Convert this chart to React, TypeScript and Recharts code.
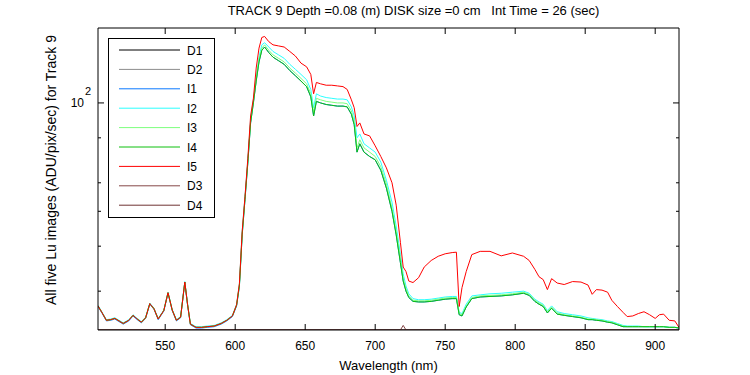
import { LineChart, Line, XAxis, YAxis, Legend } from "recharts";

// wavelength grid (nm) for the five Lu images
const wavelength = [
  502, 505, 508, 511, 514, 517, 520, 524, 527, 530,
  533, 536, 539, 542, 545, 549, 552, 555, 558, 561,
  564, 566, 568, 572, 576, 580, 585, 590, 594, 598,
  601, 603, 605, 607, 609, 611, 613, 615, 617, 619,
  621, 624, 627, 631, 635, 639, 643, 647, 651, 654,
  656, 658, 661, 665, 669, 673, 677, 680, 683, 685,
  687, 689, 692, 696, 700, 704, 708, 712, 715, 718,
  720, 722, 724, 727, 731, 735, 740, 745, 750, 755,
  758, 760, 762, 765, 769, 775, 782, 790, 798, 806,
  810, 814, 817, 820, 823, 826, 830, 835, 841, 847,
  852, 855, 858, 862, 866, 869, 873, 877, 880, 884,
  888, 892, 896, 900, 903, 906, 910, 914, 917,
];

const i1 = [
  27.2, 26.0, 24.8, 24.9, 25.1, 24.7, 24.3, 24.8, 25.6, 25.0,
  24.5, 25.2, 27.6, 26.7, 25.0, 26.4, 29.6, 26.5, 24.8, 25.3,
  31.7, 27.4, 24.2, 23.7, 23.7, 23.8, 23.9, 24.3, 24.8, 25.5,
  27.3, 30.9, 43, 54, 68, 88, 100, 115, 130, 140,
  143, 138, 134, 131, 128, 123, 119, 115, 111, 104,
  92, 101, 100, 99, 98.5, 98, 98, 97.5, 93, 87,
  73, 77, 73, 71, 69.5, 65, 58, 50, 43, 36,
  32, 30, 28.8, 28.1, 28.0, 28.0, 28.1, 28.3, 28.5, 28.6,
  28.6, 25.8, 25.6, 27.1, 28.6, 28.9, 29.0, 29.1, 29.3, 29.6,
  29.2, 28.1, 27.6, 27.2, 26.1, 26.9, 25.9, 25.7, 25.5, 25.3,
  25.0, 25.0, 24.9, 24.8, 24.6, 24.5, 24.2, 23.9, 23.9, 23.9,
  23.9, 23.9, 23.9, 23.9, 23.9, 23.9, 23.8, 23.8, 23.7,
];

const i2 = [
  27.4, 26.2, 25.0, 25.1, 25.3, 24.9, 24.5, 25.0, 25.8, 25.2,
  24.7, 25.4, 27.8, 26.9, 25.2, 26.6, 29.8, 26.7, 25.0, 25.5,
  31.9, 27.6, 24.4, 23.9, 23.9, 24.0, 24.1, 24.5, 25.0, 25.7,
  27.6, 31.3, 44, 55, 69, 90, 102, 118, 134, 145,
  147, 143, 139, 136, 133, 128, 124, 120, 116, 109,
  97, 106, 104.5, 103.5, 103, 102.5, 102.5, 102, 97.5, 92,
  80, 82, 77, 75, 73, 68.5, 61, 53, 45.5, 38,
  33.5, 31, 29.5, 28.6, 28.4, 28.4, 28.5, 28.7, 28.9, 29.0,
  29.0, 26.2, 26.0, 27.6, 29.1, 29.3, 29.5, 29.6, 29.8, 30.0,
  29.6, 28.5, 28.0, 27.6, 26.5, 27.3, 26.3, 26.0, 25.8, 25.6,
  25.3, 25.2, 25.1, 25.0, 24.8, 24.7, 24.4, 24.1, 24.0, 24.0,
  24.0, 23.9, 23.9, 23.9, 23.9, 23.9, 23.8, 23.8, 23.7,
];

const i3 = [
  27.3, 26.1, 24.9, 25.0, 25.2, 24.8, 24.4, 24.9, 25.7, 25.1,
  24.6, 25.3, 27.7, 26.8, 25.1, 26.5, 29.7, 26.6, 24.9, 25.4,
  31.8, 27.5, 24.3, 23.8, 23.8, 23.9, 24.0, 24.4, 24.9, 25.6,
  27.5, 31.2, 43.5, 54.5, 68.5, 89, 101, 116, 132, 142,
  145, 140, 136, 133, 130, 125, 121, 117, 113, 106,
  94, 103, 102, 101, 100.5, 100, 100, 99.5, 95, 89,
  75, 79, 75, 73, 71, 66.5, 59.5, 51, 44, 37,
  32.5, 30.5, 29.1, 28.3, 28.2, 28.2, 28.3, 28.5, 28.7, 28.8,
  28.8, 26.0, 25.8, 27.3, 28.8, 29.1, 29.2, 29.3, 29.5, 29.8,
  29.4, 28.3, 27.8, 27.4, 26.3, 27.1, 26.1, 25.8, 25.6, 25.4,
  25.1, 25.1, 25.0, 24.9, 24.7, 24.6, 24.3, 24.0, 23.9, 23.9,
  23.9, 23.9, 23.9, 23.9, 23.9, 23.9, 23.8, 23.8, 23.7,
];

const i4 = [
  27.3, 26.1, 24.9, 25.0, 25.2, 24.8, 24.4, 24.9, 25.7, 25.1,
  24.6, 25.3, 27.7, 26.8, 25.1, 26.5, 29.7, 26.6, 24.9, 25.4,
  31.8, 27.5, 24.3, 23.8, 23.8, 23.9, 24.0, 24.4, 24.9, 25.6,
  27.4, 31.0, 43, 54, 68, 88, 100, 115, 130, 140,
  143, 138, 134, 131, 128, 123, 119, 115, 111, 104,
  92, 101, 100, 99, 98.5, 98, 98, 97.5, 93, 87,
  73, 77, 73, 71, 69.5, 65, 58, 50, 43, 36,
  32, 30, 28.8, 28.1, 28.0, 28.0, 28.1, 28.3, 28.5, 28.6,
  28.6, 25.8, 25.6, 27.1, 28.6, 28.9, 29.0, 29.1, 29.3, 29.6,
  29.2, 28.1, 27.6, 27.2, 26.1, 26.9, 25.9, 25.7, 25.5, 25.3,
  25.0, 25.0, 24.9, 24.8, 24.6, 24.5, 24.2, 23.9, 23.9, 23.9,
  23.9, 23.9, 23.9, 23.9, 23.9, 23.9, 23.8, 23.8, 23.7,
];

const i5 = [
  27.3, 26.1, 24.9, 25.0, 25.2, 24.8, 24.4, 24.9, 25.7, 25.1,
  24.6, 25.3, 27.7, 26.8, 25.1, 26.5, 29.7, 26.6, 24.9, 25.4,
  31.8, 27.5, 24.3, 23.8, 23.8, 23.9, 24.0, 24.4, 24.9, 25.6,
  27.5, 31.5, 44, 55, 70, 92, 103, 125, 142, 152,
  153, 148, 145, 144, 143, 139, 135, 129, 126, 120,
  106, 114, 113, 112, 112, 111.5, 111, 109, 102, 97,
  86, 88, 82, 81, 76, 71, 66, 60, 52, 41,
  35, 34, 32, 31.7, 32.7, 35, 36.5, 37.5, 38.1, 38.4,
  38.5, 27.2, 30.7, 34.0, 37.9, 38.7, 38.7, 37.6, 38.3, 37.5,
  36.5, 34.5, 32.9, 32.3, 30.3, 32.5, 31.6, 31.3, 31.9, 31.8,
  31.2, 29.4, 30.3, 30.2, 29.8, 28.3, 27.2, 26.2, 25.5, 25.6,
  26.0, 26.3, 25.8, 25.2, 25.8, 25.9, 24.9, 24.8, 23.8,
];

// dark frames sit on the bottom of the axis
const darkWavelength = [502, 718, 720, 722, 917];
const d1 = [23.4, 23.4, 23.4, 23.4, 23.4];
const d2 = [23.4, 23.4, 23.4, 23.4, 23.4];
const d3 = [23.4, 23.4, 24.1, 23.4, 23.4];
const d4 = [23.4, 23.4, 23.4, 23.4, 23.4];

const xTicks = [550, 600, 650, 700, 750, 800, 850, 900];
const yTicks = [30, 40, 50, 60, 70, 80, 90, 100];

const brightData = wavelength.map((wl, i) => ({
  wl,
  I1: i1[i],
  I2: i2[i],
  I3: i3[i],
  I4: i4[i],
  I5: i5[i],
}));

const darkData = darkWavelength.map((wl, i) => ({
  wl,
  D1: d1[i],
  D2: d2[i],
  D3: d3[i],
  D4: d4[i],
}));

// plot order = legend order (MATLAB draws later ones on top)
const series = [
  { key: "D1", color: "#000000", data: darkData },
  { key: "D2", color: "#8c8c8c", data: darkData },
  { key: "I1", color: "#0a78ff", data: brightData },
  { key: "I2", color: "#2affff", data: brightData },
  { key: "I3", color: "#7dff7d", data: brightData },
  { key: "I4", color: "#0fc00f", data: brightData },
  { key: "I5", color: "#ff0000", data: brightData },
  { key: "D3", color: "#864848", data: darkData },
  { key: "D4", color: "#6e3333", data: darkData },
];
const seriesOrder = series.map((s) => s.key);

const TITLE = "TRACK 9 Depth =0.08 (m) DISK size =0 cm\u00a0\u00a0\u00a0Int Time = 26 (sec)";
const FONT = "'Liberation Sans', Arial, Helvetica, sans-serif";

const BottomTick = (props: any) => {
  const { x, y, payload } = props;
  return (
    <g>
      <line x1={x} y1={y} x2={x} y2={y - 6} stroke="#000" />
      <text x={x} y={y + 20} textAnchor="middle" fontSize={12} fill="#000" fontFamily={FONT}>
        {payload.value}
      </text>
    </g>
  );
};

const TopTick = (props: any) => {
  const { x, y } = props;
  return <line x1={x} y1={y} x2={x} y2={y + 6} stroke="#000" />;
};

const LeftTick = (props: any) => {
  const { x, y, payload } = props;
  const major = payload.value === 100;
  return (
    <g>
      <line x1={x} y1={y} x2={x + (major ? 6 : 3)} y2={y} stroke="#000" />
      {major && (
        <g fontFamily={FONT} fill="#000">
          <text x={x - 14} y={y + 4.5} textAnchor="end" fontSize={12}>
            10
          </text>
          <text x={x - 13} y={y - 7.5} fontSize={11}>
            2
          </text>
        </g>
      )}
    </g>
  );
};

const RightTick = (props: any) => {
  const { x, y, payload } = props;
  const major = payload.value === 100;
  return <line x1={x} y1={y} x2={x - (major ? 6 : 3)} y2={y} stroke="#000" />;
};

const YLabel = (props: any) => {
  const { viewBox } = props;
  const cx = viewBox.x - 7;
  const cy = viewBox.y + viewBox.height / 2 - 9;
  return (
    <text
      x={cx}
      y={cy}
      transform={`rotate(-90, ${cx}, ${cy})`}
      textAnchor="middle"
      dominantBaseline="central"
      fontSize={14}
      fontFamily={FONT}
      fill="#000"
    >
      All five Lu images (ADU/pix/sec) for Track 9
    </text>
  );
};

const LegendBox = (props: any) => {
  const items = [...(props.payload || [])].sort(
    (a: any, b: any) => seriesOrder.indexOf(a.value) - seriesOrder.indexOf(b.value)
  );
  return (
    <svg width={108} height={181} style={{ display: "block" }}>
      <rect x={0.5} y={0.5} width={106} height={179} fill="#fff" stroke="#000" />
      {items.map((it: any, i: number) => {
        const cy = 12 + i * 19.4;
        return (
          <g key={it.value}>
            <line x1={11} x2={72} y1={cy} y2={cy} stroke={it.color} />
            <text x={79} y={cy + 4.5} fontSize={12} fontFamily={FONT} fill="#000">
              {it.value}
            </text>
          </g>
        );
      })}
    </svg>
  );
};

export default function App() {
  return (
    <div
      style={{
        position: "absolute",
        left: 0,
        top: 0,
        width: 750,
        height: 375,
        background: "#fff",
        fontFamily: FONT,
      }}
    >
      <LineChart width={750} height={375} margin={{ top: 18, right: 31, bottom: 15, left: 58 }}>
        <XAxis
          xAxisId="bottom"
          type="number"
          dataKey="wl"
          domain={[502, 917]}
          ticks={xTicks}
          allowDataOverflow
          tickSize={0}
          tickMargin={0}
          tickLine={false}
          height={30}
          axisLine={{ stroke: "#000" }}
          tick={<BottomTick />}
          label={{
            value: "Wavelength (nm)",
            position: "bottom",
            offset: 1,
            fontSize: 13,
            fill: "#000",
            fontFamily: FONT,
          }}
        />
        <XAxis
          xAxisId="top"
          orientation="top"
          type="number"
          dataKey="wl"
          domain={[502, 917]}
          ticks={xTicks}
          allowDataOverflow
          tickSize={0}
          tickMargin={0}
          tickLine={false}
          height={10}
          axisLine={{ stroke: "#000" }}
          tick={<TopTick />}
          label={{
            value: TITLE,
            position: "top",
            offset: 3,
            dx: 25,
            fontSize: 13,
            fill: "#000",
            fontFamily: FONT,
          }}
        />
        <YAxis
          yAxisId="left"
          scale="log"
          type="number"
          domain={[23.4, 161.5]}
          ticks={yTicks}
          allowDataOverflow
          tickSize={0}
          tickMargin={0}
          tickLine={false}
          width={40}
          axisLine={{ stroke: "#000" }}
          tick={<LeftTick />}
          label={<YLabel />}
        />
        <YAxis
          yAxisId="right"
          orientation="right"
          scale="log"
          type="number"
          domain={[23.4, 161.5]}
          ticks={yTicks}
          allowDataOverflow
          tickSize={0}
          tickMargin={0}
          tickLine={false}
          width={40}
          axisLine={{ stroke: "#000" }}
          tick={<RightTick />}
        />
        <Legend
          layout="vertical"
          align="center"
          verticalAlign="middle"
          wrapperStyle={{ left: 108, top: 38, width: 108, height: 181 }}
          content={<LegendBox />}
        />
        {series.map((s) => (
          <Line
            key={s.key}
            data={s.data}
            xAxisId="bottom"
            yAxisId="left"
            dataKey={s.key}
            name={s.key}
            stroke={s.color}
            strokeWidth={1}
            dot={false}
            activeDot={false}
            type="linear"
            isAnimationActive={false}
          />
        ))}
      </LineChart>
    </div>
  );
}
